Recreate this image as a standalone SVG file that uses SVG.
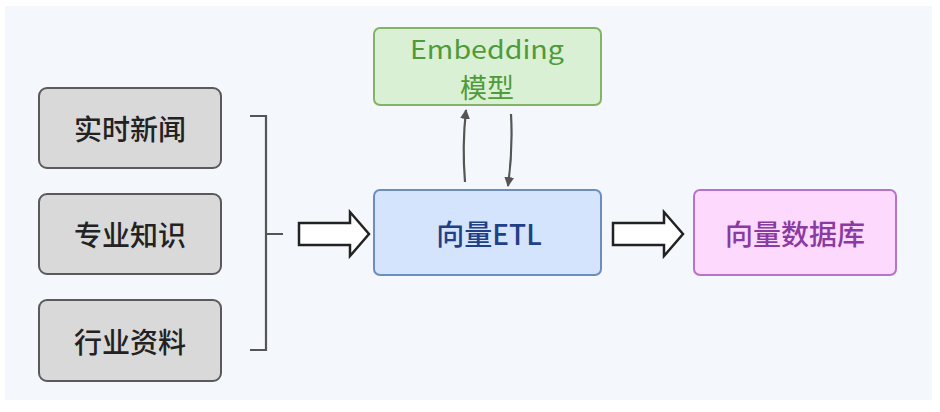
<svg xmlns="http://www.w3.org/2000/svg" width="940" height="412" viewBox="0 0 940 412">
<style>
.box{stroke-width:2}
.gray{fill:#d9d9d9;stroke:#5a5a5a}
.t{font-family:"Noto Sans CJK SC","Noto Sans",sans-serif;font-size:28px;font-weight:500;text-anchor:middle;dominant-baseline:central}
.e{font-family:"Noto Sans CJK SC","Noto Sans",sans-serif;font-size:25px;font-weight:400;text-anchor:middle;dominant-baseline:central;fill:#4f9a3a}
.hollow{fill:#ffffff;stroke:#222;stroke-width:2.5;stroke-linejoin:miter}
.conn{fill:none;stroke:#555;stroke-width:2.2}
</style>
<defs>
<marker id="ah" viewBox="0 0 10 10" refX="9" refY="5" markerWidth="4.5" markerHeight="4.5" orient="auto-start-reverse">
<path d="M0,0 L10,5 L0,10 Z" fill="#555"/>
</marker>
</defs>
<rect x="0" y="0" width="940" height="412" fill="#ffffff"/>
<rect x="5" y="6" width="927" height="394" fill="#f4f7fc"/>
<g id="n1"><rect class="box gray" x="39" y="88" width="182" height="80" rx="8"/><text class="t" x="130" y="128" fill="#222">实时新闻</text></g>
<g id="n2"><rect class="box gray" x="39" y="194" width="182" height="80" rx="8"/><text class="t" x="130" y="234" fill="#222">专业知识</text></g>
<g id="n3"><rect class="box gray" x="39" y="300" width="182" height="81" rx="8"/><text class="t" x="130" y="341" fill="#222">行业资料</text></g>
<g id="emb"><rect class="box" x="374" y="28" width="227" height="77" rx="6" fill="#d9f0d4" stroke="#82b366"/><text class="e" x="487" y="48" textLength="154" lengthAdjust="spacingAndGlyphs">Embedding</text><text class="e" x="487" y="86" style="font-size:27px">模型</text></g>
<g id="etl"><rect class="box" x="374" y="190" width="227" height="85" rx="6" fill="#d4e4fc" stroke="#6c8ebf"/><text class="t" x="489" y="233" fill="#1f3f87">向量ETL</text></g>
<g id="db"><rect class="box" x="694" y="190" width="202" height="85" rx="6" fill="#fdd9fd" stroke="#b673c9"/><text class="t" x="795" y="233" fill="#8a3aa0">向量数据库</text></g>
<g id="connectors">
<path class="conn" stroke="#222" stroke-width="2.5" d="M250,116 H266 V350 H250 M266,234 H283"/>
<path class="hollow" d="M299,223 H350 V212 L369,234 L350,256 V245 H299 Z"/>
<path class="hollow" d="M613,223 H664 V212 L683,234 L664,256 V245 H613 Z"/>
<path class="conn" d="M465,182 Q462,146 466,110" marker-end="url(#ah)"/>
<path class="conn" d="M511,114 Q513,150 508,186" marker-end="url(#ah)"/>
</g>
</svg>
